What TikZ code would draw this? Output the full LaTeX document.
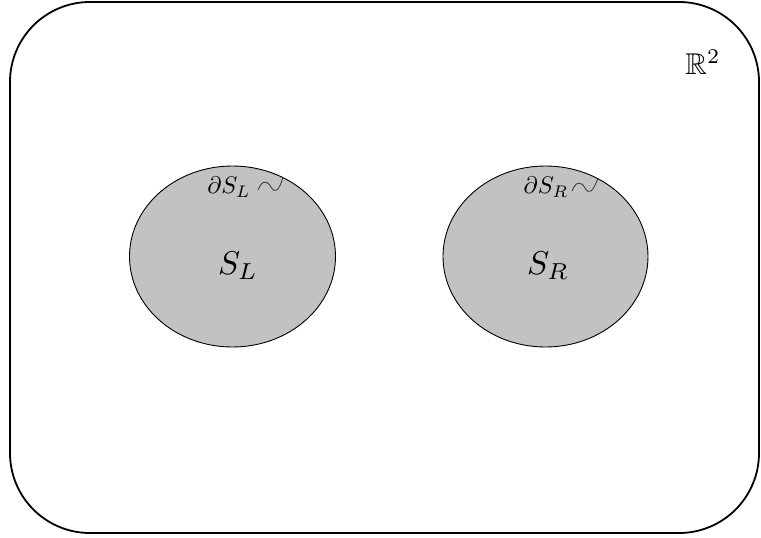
\documentclass[tikz,border=0pt]{standalone}
\usepackage{graphicx}
\usepackage{amssymb}
\begin{document}
\begin{tikzpicture}[x=1pt,y=-1pt,
  region/.style={draw=black,line width=0.9pt,fill=gray!48},
  squig/.style={draw=black!80,line width=0.8pt}]
\useasboundingbox (0,0) rectangle (761,538);
\draw[line width=1.8pt,rounded corners=80pt] (10,2) rectangle (759,533);
\node (R2) at (703,62) {\scalebox{3}{$\mathbb{R}^2$}};
\draw[region] (232.5,256.5) ellipse [x radius=103,y radius=90.5];
\draw[region] (545.5,256.5) ellipse [x radius=102.5,y radius=90.5];
\node (SL) at (238,266) {\scalebox{3.3}{$S_L$}};
\node (SR) at (548,266) {\scalebox{3.3}{$S_R$}};
\node (dSL) at (229,187) {\scalebox{2.4}{$\partial S_L$}};
\node (dSR) at (546,187) {\scalebox{2.4}{$\partial S_R$}};
\draw[squig] (258,190) .. controls (262,180) and (267,180) .. (271,187) .. controls (275,194) and (279,191) .. (283,177);
\draw[squig] (572,191) .. controls (576,181) and (581,181) .. (585,188) .. controls (589,195) and (593,192) .. (598,178);
\end{tikzpicture}
\end{document}
